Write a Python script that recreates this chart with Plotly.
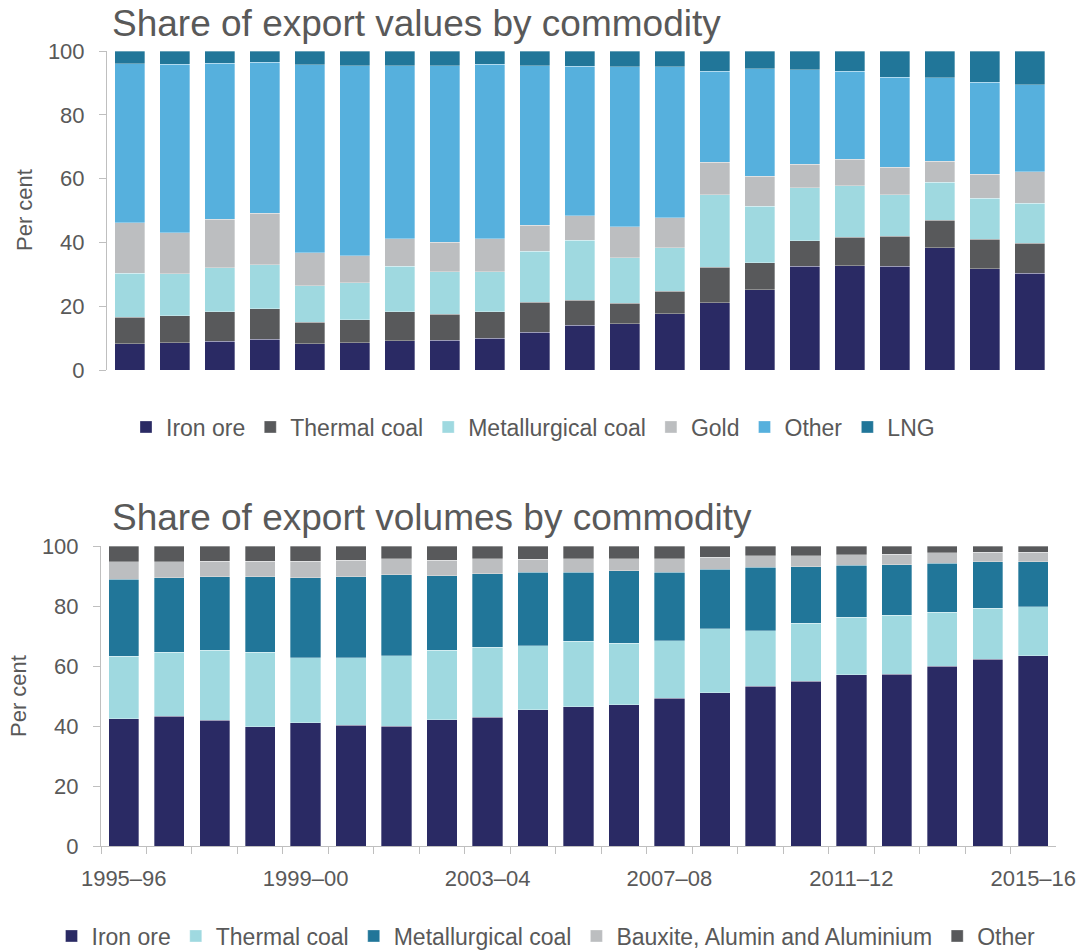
import plotly.graph_objects as go

years = ["1995–96", "1996–97", "1997–98", "1998–99", "1999–00", "2000–01", "2001–02",
         "2002–03", "2003–04", "2004–05", "2005–06", "2006–07", "2007–08", "2008–09",
         "2009–10", "2010–11", "2011–12", "2012–13", "2013–14", "2014–15", "2015–16"]
tick_labels = [y if i % 4 == 0 else "" for i, y in enumerate(years)]

# Share of export values (per cent)
val_iron = [8.2, 8.5, 9.0, 9.6, 8.2, 8.5, 9.1, 9.3, 10.0, 11.9, 14.1, 14.5, 17.6, 21.1, 25.2, 32.6, 32.7, 32.6, 38.3, 31.7, 30.4]
val_thermal = [8.4, 8.5, 9.2, 9.6, 6.7, 7.2, 9.2, 8.1, 8.3, 9.3, 7.7, 6.4, 7.1, 11.1, 8.5, 7.9, 8.9, 9.3, 8.6, 9.3, 9.3]
val_met = [13.7, 13.2, 13.9, 13.8, 11.5, 11.6, 14.3, 13.4, 12.5, 16.0, 18.8, 14.3, 13.7, 22.8, 17.7, 16.7, 16.2, 13.0, 11.9, 12.8, 12.5]
val_gold = [15.8, 12.9, 15.1, 16.1, 10.4, 8.5, 8.6, 9.2, 10.4, 8.2, 7.8, 9.7, 9.4, 10.1, 9.3, 7.3, 8.2, 8.6, 6.7, 7.5, 10.0]
val_other = [49.9, 52.7, 48.9, 47.4, 58.9, 59.5, 54.1, 55.4, 54.6, 49.9, 46.8, 50.2, 47.2, 28.6, 33.7, 29.7, 27.7, 28.3, 26.1, 28.9, 27.3]
val_lng = [4.0, 4.2, 3.9, 3.5, 4.3, 4.7, 4.7, 4.6, 4.2, 4.7, 4.8, 4.9, 5.0, 6.3, 5.6, 5.8, 6.3, 8.2, 8.4, 9.8, 10.5]

# Share of export volumes (per cent)
vol_iron = [42.5, 43.3, 42.0, 39.7, 41.1, 40.2, 39.9, 42.1, 42.9, 45.4, 46.5, 47.1, 49.3, 51.1, 53.3, 54.9, 57.1, 57.2, 60.0, 62.2, 63.4]
vol_thermal = [20.7, 21.3, 23.2, 24.9, 21.7, 22.5, 23.6, 23.2, 23.4, 21.3, 21.7, 20.5, 19.2, 21.4, 18.4, 19.4, 19.2, 19.7, 17.9, 17.1, 16.3]
vol_met = [25.8, 24.8, 24.6, 25.1, 26.6, 27.0, 27.0, 24.8, 24.4, 24.6, 23.1, 24.1, 22.8, 19.7, 21.3, 18.8, 17.3, 16.8, 16.4, 15.5, 15.1]
vol_baux = [5.8, 5.4, 5.1, 5.2, 5.5, 5.5, 5.2, 5.2, 5.0, 4.3, 4.4, 4.1, 4.5, 4.0, 3.8, 3.7, 3.5, 3.5, 3.5, 3.2, 3.2]
vol_other = [5.2, 5.2, 5.1, 5.1, 5.1, 4.8, 4.3, 4.7, 4.3, 4.4, 4.3, 4.2, 4.2, 3.8, 3.2, 3.2, 2.9, 2.8, 2.2, 2.0, 2.0]

NAVY = "#2a2a64"
DGRAY = "#58595b"
LCYAN = "#9fd9e0"
LGRAY = "#bcbec0"
SKY = "#56b0dd"
TEAL = "#217699"
TXT = "#595959"
AX = "#bfbfbf"
FONT = "Liberation Sans, Arial, sans-serif"

fig = go.Figure()

top_series = [("Iron ore", val_iron, NAVY), ("Thermal coal", val_thermal, DGRAY),
              ("Metallurgical coal", val_met, LCYAN), ("Gold", val_gold, LGRAY),
              ("Other", val_other, SKY), ("LNG", val_lng, TEAL)]
for name, vals, col in top_series:
    fig.add_trace(go.Bar(x=years, y=vals, name=name, marker_color=col,
                         marker_line=dict(color="rgba(255,255,255,0.4)", width=0.8),
                         xaxis="x", yaxis="y", legend="legend"))

bot_series = [("Iron ore", vol_iron, NAVY), ("Thermal coal", vol_thermal, LCYAN),
              ("Metallurgical coal", vol_met, TEAL),
              ("Bauxite, Alumin and Aluminium", vol_baux, LGRAY), ("Other", vol_other, DGRAY)]
for name, vals, col in bot_series:
    fig.add_trace(go.Bar(x=years, y=vals, name=name, marker_color=col,
                         marker_line=dict(color="rgba(255,255,255,0.4)", width=0.8),
                         xaxis="x2", yaxis="y2", legend="legend2"))

W, H = 1080, 951
def px(x): return x / W
def py(y): return 1 - y / H

yax = dict(range=[0, 100], tickvals=[0, 20, 40, 60, 80, 100], showgrid=False, zeroline=False,
           showline=True, linecolor=AX, linewidth=1, ticks="outside", ticklen=7, tickcolor=AX,
           tickfont=dict(family=FONT, size=22, color=TXT), ticklabelstandoff=10, automargin=False)

fig.update_layout(
    width=W, height=H, margin=dict(l=0, r=0, t=0, b=0, autoexpand=False),
    paper_bgcolor="white", plot_bgcolor="white",
    barmode="stack", bargap=1/3,
    font=dict(family=FONT, color=TXT),
    xaxis=dict(domain=[px(107), px(1052)], anchor="y", showticklabels=False, ticks="",
               showline=False, showgrid=False, type="category", automargin=False),
    yaxis=dict(domain=[py(370), py(51)], anchor="x", **yax),
    xaxis2=dict(domain=[px(101), px(1056)], anchor="y2", type="category", showgrid=False,
                showline=True, linecolor=AX, linewidth=1, ticks="outside", ticklen=7,
                tickcolor=AX, tickson="boundaries", tickvals=years, ticktext=tick_labels,
                tickangle=0, ticklabelstandoff=13,
                tickfont=dict(family=FONT, size=22, color=TXT), automargin=False),
    yaxis2=dict(domain=[py(846), py(546)], anchor="x2", **yax),
    legend=dict(orientation="h", x=px(533), xanchor="center", y=py(427), yanchor="middle",
                font=dict(family=FONT, size=23, color=TXT), traceorder="normal",
                bgcolor="rgba(0,0,0,0)", itemclick=False),
    legend2=dict(orientation="h", x=px(546), xanchor="center", y=py(936), yanchor="middle",
                 font=dict(family=FONT, size=23, color=TXT), traceorder="normal",
                 bgcolor="rgba(0,0,0,0)", itemclick=False),
    showlegend=True,
)

fig.add_annotation(text="Share of export values by commodity", x=px(110), y=py(24),
                   xref="paper", yref="paper", xanchor="left", yanchor="middle", showarrow=False,
                   font=dict(family=FONT, size=37, color=TXT))
fig.add_annotation(text="Share of export volumes by commodity", x=px(110), y=py(517),
                   xref="paper", yref="paper", xanchor="left", yanchor="middle", showarrow=False,
                   font=dict(family=FONT, size=37, color=TXT))
fig.add_annotation(text="Per cent", x=px(25), y=py(210), xref="paper", yref="paper",
                   xanchor="center", yanchor="middle", textangle=-90, showarrow=False,
                   font=dict(family=FONT, size=22, color=TXT))
fig.add_annotation(text="Per cent", x=px(18), y=py(696), xref="paper", yref="paper",
                   xanchor="center", yanchor="middle", textangle=-90, showarrow=False,
                   font=dict(family=FONT, size=22, color=TXT))

fig.write_html("out.html")
